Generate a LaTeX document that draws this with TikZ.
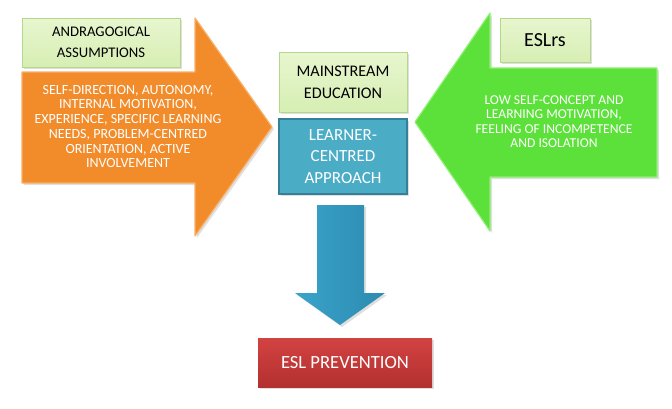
\documentclass[tikz,border=0pt]{standalone}
\usepackage{fontspec}
\setmainfont{Carlito}
\usepackage{xcolor}
\usepackage{tikz}
\usetikzlibrary{positioning, shadows}

\definecolor{palegreen}{HTML}{E8F6CF}
\definecolor{palegreenB}{HTML}{D6EEB3}
\definecolor{paleedge}{HTML}{B3D88B}
\definecolor{orangeM}{HTML}{F28C2B}
\definecolor{orangeedge}{HTML}{F8B068}
\definecolor{greenM}{HTML}{5CE03A}
\definecolor{greenedge}{HTML}{8EF070}
\definecolor{tealbox}{HTML}{4BACC6}
\definecolor{tealedge}{HTML}{357F98}
\definecolor{arrowblueL}{HTML}{3AA3CA}
\definecolor{arrowblueM}{HTML}{5EC2E4}
\definecolor{arrowblueR}{HTML}{2C8BB0}
\definecolor{redT}{HTML}{D24342}
\definecolor{redB}{HTML}{B3302F}

\begin{document}
\begin{tikzpicture}[x=1pt, y=-1pt,
  shade/.style={drop shadow={opacity=0.25, shadow xshift=2pt, shadow yshift=-2pt}},
  palebox/.style={draw=paleedge, line width=0.8pt, top color=palegreen, bottom color=palegreenB,
    shade, align=center, text=black, inner sep=0pt},
  whitetext/.style={text=white, align=center, inner sep=0pt}]
\useasboundingbox (0,0) rectangle (672,408);
% orange arrow pointing right
\path[draw=orangeedge, line width=1.2pt, line join=round, fill=orangeM, shade]
  (22,72) -- (195,72) -- (195,18) -- (272,127) -- (195,236) -- (195,183) -- (22,183) -- cycle;
\node[whitetext, font=\fontsize{14}{14.7}\selectfont] (andratext) at (128,126.5)
  {SELF-DIRECTION, AUTONOMY,\\INTERNAL MOTIVATION,\\EXPERIENCE, SPECIFIC LEARNING\\NEEDS, PROBLEM-CENTRED\\ORIENTATION, ACTIVE\\INVOLVEMENT};
\node[palebox, minimum width=158pt, minimum height=49pt, font=\fontsize{14.7}{21}\selectfont]
  (andra) at (101,42.5) {ANDRAGOGICAL\\ASSUMPTIONS};
% green arrow pointing left
\path[draw=greenedge, line width=1.2pt, line join=round, fill=greenM, shade]
  (415,122) -- (490,13) -- (490,68) -- (657,68) -- (657,177) -- (490,177) -- (490,231) -- cycle;
\node[whitetext, font=\fontsize{13.6}{14.3}\selectfont] (esltext) at (554,121.5)
  {LOW SELF-CONCEPT AND\\LEARNING MOTIVATION,\\FEELING OF INCOMPETENCE\\AND ISOLATION};
\node[palebox, minimum width=90pt, minimum height=44pt, font=\fontsize{20}{24}\selectfont]
  (eslrs) at (545,40) {ESLrs};
% middle column
\node[palebox, minimum width=128pt, minimum height=60pt, font=\fontsize{16.2}{22}\selectfont]
  (mainstream) at (343,82) {MAINSTREAM\\EDUCATION};
\node[draw=tealedge, line width=1.6pt, fill=tealbox, shade, whitetext,
  minimum width=128pt, minimum height=75pt, font=\fontsize{17}{21.7}\selectfont]
  (learner) at (343,156.5) {LEARNER-\\CENTRED\\APPROACH};
% blue arrow pointing down
\path[left color=arrowblueL, middle color=arrowblueM, right color=arrowblueR, shade]
  (317,205) -- (364,205) -- (364,293) -- (385,293) -- (340,325) -- (295,293) -- (317,293) -- cycle;
\node[top color=redT, bottom color=redB, shade, whitetext,
  minimum width=174pt, minimum height=49pt, font=\fontsize{18.6}{22}\selectfont]
  (prevention) at (345,362.5) {ESL PREVENTION};
\end{tikzpicture}
\end{document}
